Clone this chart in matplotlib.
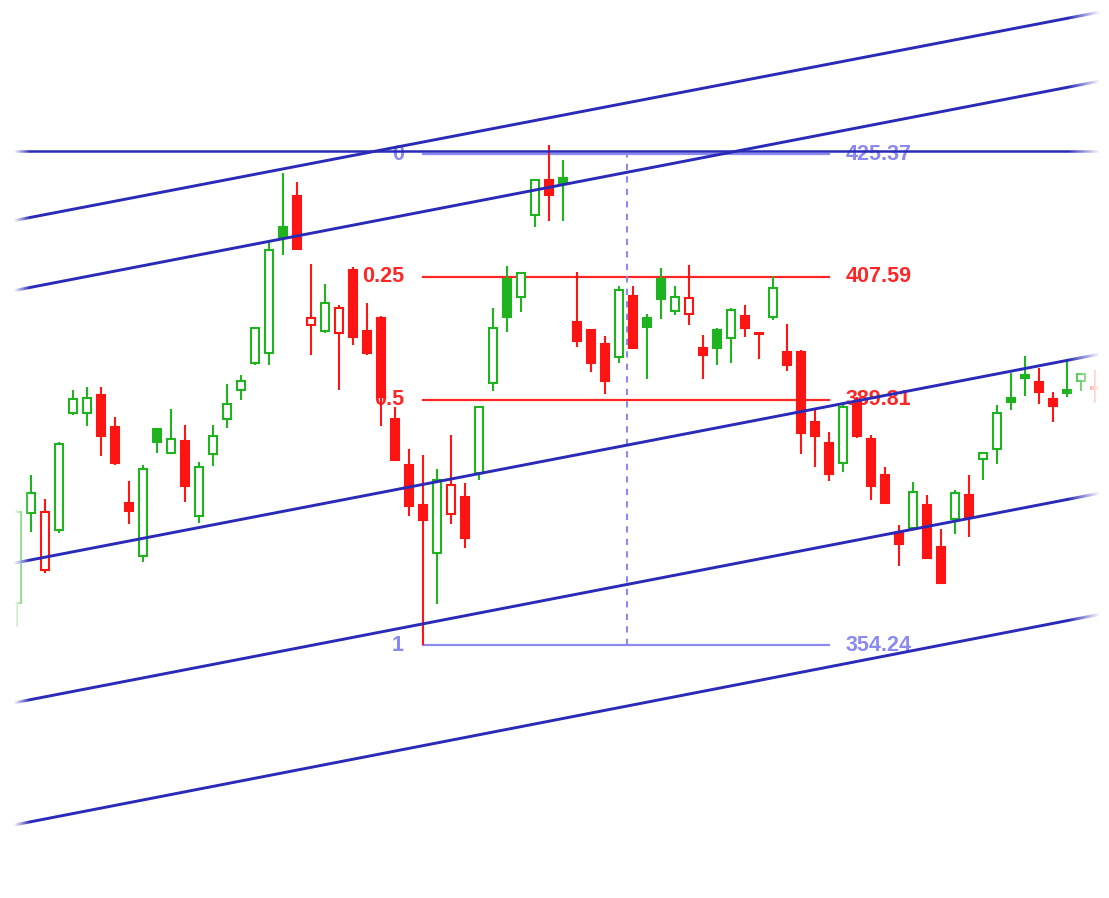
import numpy as np
import matplotlib
matplotlib.use("Agg")
import matplotlib.pyplot as plt
from matplotlib.patches import Rectangle

# ---------------- data ----------------
opens = [360.33, 373.36, 365.11, 370.90, 387.85, 387.85, 390.46, 385.82, 374.81, 367.14,
         385.53, 382.06, 383.80, 372.93, 381.91, 386.98, 391.18, 395.09, 396.54, 414.80,
         419.29, 400.60, 399.73, 399.44, 408.57, 399.73, 401.61, 386.98, 380.32, 374.52,
         367.57, 373.22, 375.68, 379.16, 392.20, 407.26, 404.66, 416.53, 421.60, 421.89,
         401.03, 399.87, 397.85, 395.96, 404.80, 401.61, 407.26, 402.63, 402.19, 397.27,
         399.87, 398.72, 401.90, 399.44, 401.76, 396.69, 396.69, 386.55, 383.51, 380.61,
         389.44, 384.08, 378.87, 370.47, 371.19, 374.52, 368.44, 372.50, 375.97, 381.19,
         382.64, 390.02, 393.36, 392.34, 389.88, 391.18, 392.49, 391.62]
highs = [373.80, 378.87, 375.39, 383.65, 391.18, 391.62, 391.62, 387.27, 378.00, 380.32,
         385.60, 388.43, 386.11, 380.75, 386.11, 392.05, 393.36, 400.31, 412.62, 422.62,
         421.31, 409.44, 406.54, 403.50, 409.00, 403.79, 401.90, 388.72, 382.64, 381.77,
         379.74, 384.66, 377.71, 388.87, 403.06, 409.15, 408.28, 421.75, 426.67, 424.50,
         408.28, 400.02, 399.01, 406.25, 406.25, 402.19, 408.86, 406.25, 409.29, 399.15,
         400.16, 403.06, 403.50, 399.50, 407.70, 400.74, 396.98, 388.43, 385.10, 389.30,
         390.17, 384.66, 380.03, 371.63, 377.86, 375.97, 371.05, 376.70, 378.87, 382.20,
         389.01, 393.65, 396.11, 394.37, 390.89, 395.38, 393.65, 394.08]
lows = [356.85, 370.61, 364.67, 370.47, 387.56, 385.97, 381.62, 380.32, 371.77, 366.27,
        382.06, 381.90, 374.96, 371.92, 380.17, 385.68, 389.73, 394.80, 394.80, 410.74,
        411.50, 396.25, 399.44, 391.18, 397.70, 396.25, 385.97, 380.90, 372.93, 354.24,
        360.18, 371.77, 368.30, 378.15, 391.04, 399.58, 402.48, 414.80, 415.66, 415.66,
        397.41, 393.79, 390.60, 395.09, 397.12, 392.78, 401.47, 402.05, 400.60, 392.78,
        394.80, 395.09, 398.86, 395.67, 401.32, 393.94, 381.91, 380.03, 378.00, 379.30,
        384.23, 375.25, 374.67, 365.69, 371.05, 366.70, 363.08, 370.32, 369.89, 378.15,
        380.46, 388.29, 390.31, 389.15, 386.55, 390.17, 391.04, 389.30]
closes = [373.51, 376.26, 373.51, 383.36, 389.88, 390.02, 384.52, 380.61, 373.65, 379.74,
          383.65, 384.08, 377.28, 380.03, 384.52, 389.15, 392.49, 400.16, 411.46, 413.20,
          411.61, 401.61, 403.79, 403.06, 398.86, 396.54, 390.17, 381.04, 374.38, 372.35,
          378.15, 377.42, 369.74, 388.72, 400.16, 401.76, 408.13, 421.60, 419.43, 421.17,
          398.28, 395.09, 392.49, 405.67, 397.27, 400.31, 404.37, 404.66, 404.51, 396.25,
          397.27, 402.77, 400.16, 399.30, 405.96, 394.80, 384.95, 384.52, 379.01, 388.72,
          384.52, 377.28, 374.81, 368.87, 376.41, 366.85, 363.22, 376.26, 372.79, 382.06,
          387.85, 389.44, 392.92, 390.89, 388.87, 390.75, 393.50, 391.33]
candle_colors = ("ggrgggrrrg" "ggrggggggg" "rrgrrrrrrr" "grrgggggrg" "rrrgrgggrr"
                 "ggrrgrrrrg" "rrrrgrrgrg" "gggrrggr")

# parallel channel lines: price at bar 0 and at bar 77
channel_start = [415.81, 405.67, 366.18, 345.95, 328.25]
channel_end = [445.80, 435.80, 396.25, 376.10, 358.55]
channel_bars = [0, 77]
top_level = 425.85

# fibonacci retracement
fib_high = 425.37
fib_low = 354.24
fib_levels = [0, 0.25, 0.5, 1]
fib_bar_start = 29
fib_bar_end = 58
fib_mid_bar = 43.57

# ---------------- style ----------------
GREEN = "#1fb41f"
RED = "#ff1414"
DARKBLUE = "#2a2ab8"
LIGHTBLUE = "#8a8af2"
FIBRED = "#ff2626"

W, H = 1109, 898
fig = plt.figure(figsize=(W / 100, H / 100), dpi=100)
ax = fig.add_axes([0, 0, 1, 1])
ax.set_xlim(-17 / 14, (W - 17) / 14)
ax.set_ylim(317.59, 447.68)
ax.axis("off")

n = len(opens)
xs = np.arange(n)
body_w = 0.6
for i in range(n):
    o, h, l, c = opens[i], highs[i], lows[i], closes[i]
    col = GREEN if candle_colors[i] == "g" else RED
    hollow = c > o
    ax.plot([xs[i], xs[i]], [l, h], color=col, lw=1.5, zorder=3, solid_capstyle="butt")
    bot, top = min(o, c), max(o, c)
    ax.add_patch(Rectangle((xs[i] - body_w / 2, bot), body_w, max(top - bot, 0.15),
                           facecolor="white" if hollow else col, edgecolor=col,
                           lw=1.5, zorder=4))

# channel lines
xline = np.array([-0.25, 77.35])
for s, e in zip(channel_start, channel_end):
    coef = np.polyfit(channel_bars, [s, e], 1)
    ax.plot(xline, np.polyval(coef, xline), color=DARKBLUE, lw=2.1, zorder=6)
ax.plot(xline, [top_level, top_level], color=DARKBLUE, lw=1.8, zorder=6)

# fibonacci
for lv in fib_levels:
    price = fib_high - lv * (fib_high - fib_low)
    col = FIBRED if 0 < lv < 1 else LIGHTBLUE
    ax.plot([fib_bar_start, fib_bar_end], [price, price], color=col, lw=1.6, zorder=2)
    ax.text(fib_bar_start - 1.36, price, f"{lv:g}", color=col, ha="right", va="center",
            fontsize=15.5, fontweight="bold", family="Liberation Sans", zorder=1)
    ax.text(fib_bar_end + 1.2, price, f"{price:.2f}", color=col, ha="left", va="center",
            fontsize=15.5, fontweight="bold", family="Liberation Sans", zorder=1)
ax.plot([fib_mid_bar, fib_mid_bar], [fib_low, fib_high], color=LIGHTBLUE, lw=1.5,
        ls=(0, (3, 3)), zorder=2)

# edge fades
ax.set_autoscale_on(False)
ax.add_patch(Rectangle((0, 0), 14 / W, 1, transform=ax.transAxes,
                       facecolor="white", edgecolor="none", zorder=10))
left = np.zeros((1, 64, 4)); left[..., :3] = 1
left[..., 3] = np.linspace(1, 0, 64)
ax.imshow(left, extent=[14 / W, 30 / W, 0, 1], transform=ax.transAxes, aspect="auto",
          zorder=10, interpolation="bilinear")
right = np.zeros((1, 64, 4)); right[..., :3] = 1
right[..., 3] = np.linspace(0, 1, 64)
ax.imshow(right, extent=[1068 / W, 1100 / W, 0, 1], transform=ax.transAxes, aspect="auto",
          zorder=10, interpolation="bilinear")
ax.add_patch(Rectangle((1100 / W, 0), 1 - 1100 / W, 1, transform=ax.transAxes,
                       facecolor="white", edgecolor="none", zorder=10))
ax.set_xlim(-17 / 14, (W - 17) / 14)
ax.set_ylim(317.59, 447.68)

fig.savefig("out.png", dpi=100)
